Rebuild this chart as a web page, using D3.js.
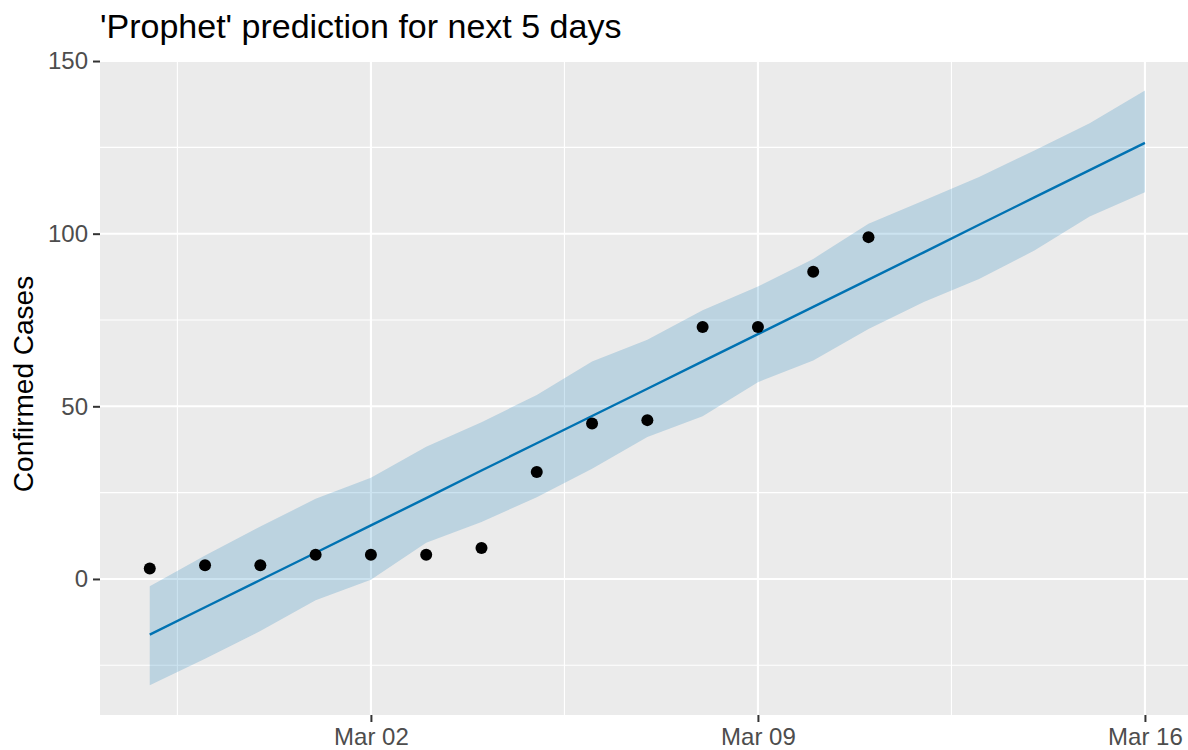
<!DOCTYPE html>
<html>
<head>
<meta charset="utf-8">
<script src="https://cdn.jsdelivr.net/npm/d3@7"></script>
<style>
  body { margin: 0; background: #fff; }
  svg text { font-family: "Liberation Sans", Arial, sans-serif; }
</style>
</head>
<body>
<div id="chart"></div>
<script>
// observed cases
var obsDates = ["2020-02-27", "2020-02-28", "2020-02-29", "2020-03-01", "2020-03-02", "2020-03-03", "2020-03-04",
    "2020-03-05", "2020-03-06", "2020-03-07", "2020-03-08", "2020-03-09", "2020-03-10", "2020-03-11"];
var obsCases = [3, 4, 4, 7, 7, 7, 9, 31, 45, 46, 73, 73, 89, 99];

// prophet forecast (history + 5 days)
var fcDates = ["2020-02-27", "2020-02-28", "2020-02-29", "2020-03-01", "2020-03-02", "2020-03-03", "2020-03-04",
    "2020-03-05", "2020-03-06", "2020-03-07", "2020-03-08", "2020-03-09", "2020-03-10", "2020-03-11",
    "2020-03-12", "2020-03-13", "2020-03-14", "2020-03-15", "2020-03-16"];
var yhat = [-16.1, -8.2, -0.3, 7.6, 15.5, 23.4, 31.4, 39.3, 47.2, 55.1, 63.0, 70.9, 78.8, 86.7, 94.6, 102.6, 110.5, 118.4, 126.3];
var yhatLower = [-30.8, -23.1, -15.1, -6.2, -0.2, 10.5, 16.5, 23.7, 31.9, 41.1, 47.1, 57.0, 63.3, 72.4, 80.2, 86.9, 95.1, 105.0, 112.0];
var yhatUpper = [-2.1, 6.8, 15.2, 23.2, 29.3, 38.3, 45.4, 53.3, 63.0, 69.3, 77.8, 84.7, 92.7, 102.9, 109.6, 116.4, 124.1, 132.0, 141.5];

var xTicks = ["2020-03-02", "2020-03-09", "2020-03-16"];
var xMinor = ["2020-02-27T12:00", "2020-03-05T12:00", "2020-03-12T12:00"];
var yTicks = [0, 50, 100, 150];
var yMinor = [-25, 25, 75, 125];

var width = 1188, height = 750;
var pLeft = 100, pTop = 60, pRight = 1194.7, pBottom = 715;
var day = 864e5;

var parse = function (s) { return new Date(s + (s.length > 10 ? ":00Z" : "T00:00:00Z")); };

var x = d3.scaleUtc()
    .domain([new Date(+parse(fcDates[0]) - 0.9 * day), new Date(+parse(fcDates[fcDates.length - 1]) + 0.9 * day)])
    .range([pLeft, pRight]);
var y = d3.scaleLinear().domain([-39.4, 150.3]).range([pBottom, pTop]);

var svg = d3.select("#chart").append("svg")
    .attr("width", width)
    .attr("height", height);

svg.append("rect")
    .attr("x", pLeft).attr("y", pTop)
    .attr("width", pRight - pLeft).attr("height", pBottom - pTop)
    .attr("fill", "#EBEBEB");

var grid = svg.append("g");
grid.selectAll(".ymin").data(yMinor).enter().append("line")
    .attr("x1", pLeft).attr("x2", pRight)
    .attr("y1", function (d) { return y(d); }).attr("y2", function (d) { return y(d); })
    .attr("stroke", "#fff").attr("stroke-width", 1.1);
grid.selectAll(".xmin").data(xMinor).enter().append("line")
    .attr("y1", pTop).attr("y2", pBottom)
    .attr("x1", function (d) { return x(parse(d)); }).attr("x2", function (d) { return x(parse(d)); })
    .attr("stroke", "#fff").attr("stroke-width", 1.1);
grid.selectAll(".ymaj").data(yTicks).enter().append("line")
    .attr("x1", pLeft).attr("x2", pRight)
    .attr("y1", function (d) { return y(d); }).attr("y2", function (d) { return y(d); })
    .attr("stroke", "#fff").attr("stroke-width", 2.1);
grid.selectAll(".xmaj").data(xTicks).enter().append("line")
    .attr("y1", pTop).attr("y2", pBottom)
    .attr("x1", function (d) { return x(parse(d)); }).attr("x2", function (d) { return x(parse(d)); })
    .attr("stroke", "#fff").attr("stroke-width", 2.1);

var fc = fcDates.map(function (d, i) {
    return {date: parse(d), yhat: yhat[i], lo: yhatLower[i], hi: yhatUpper[i]};
});

svg.append("path")
    .datum(fc)
    .attr("fill", "#0072B2")
    .attr("fill-opacity", 0.2)
    .attr("d", d3.area()
        .x(function (d) { return x(d.date); })
        .y0(function (d) { return y(d.lo); })
        .y1(function (d) { return y(d.hi); }));

svg.append("path")
    .datum(fc)
    .attr("fill", "none")
    .attr("stroke", "#0072B2")
    .attr("stroke-width", 2.4)
    .attr("d", d3.line()
        .x(function (d) { return x(d.date); })
        .y(function (d) { return y(d.yhat); }));

svg.selectAll(".pt")
    .data(obsDates)
    .enter()
    .append("circle")
    .attr("cx", function (d) { return x(parse(d)); })
    .attr("cy", function (d, i) { return y(obsCases[i]); })
    .attr("r", 6)
    .attr("fill", "#000");

// axes
var xAxis = svg.append("g")
    .attr("transform", "translate(0," + pBottom + ")")
    .call(d3.axisBottom(x)
        .tickValues(xTicks.map(parse))
        .tickFormat(d3.utcFormat("%b %d"))
        .tickSize(7)
        .tickPadding(6));
var yAxis = svg.append("g")
    .attr("transform", "translate(" + pLeft + ",0)")
    .call(d3.axisLeft(y)
        .tickValues(yTicks)
        .tickSize(7)
        .tickPadding(5));

[xAxis, yAxis].forEach(function (a) {
    a.select(".domain").remove();
    a.selectAll(".tick line").attr("stroke", "#333").attr("stroke-width", 2);
    a.selectAll(".tick text")
        .attr("fill", "#4D4D4D")
        .style("font-size", "24px")
        .style("font-family", "Liberation Sans, Arial, sans-serif");
});

svg.append("text")
    .attr("transform", "translate(33,384) rotate(-90)")
    .attr("text-anchor", "middle")
    .style("font-size", "28px")
    .attr("fill", "#000")
    .text("Confirmed Cases");

svg.append("text")
    .attr("x", pLeft)
    .attr("y", 38)
    .style("font-size", "34px")
    .attr("fill", "#000")
    .text("'Prophet' prediction for next 5 days");
</script>
</body>
</html>
